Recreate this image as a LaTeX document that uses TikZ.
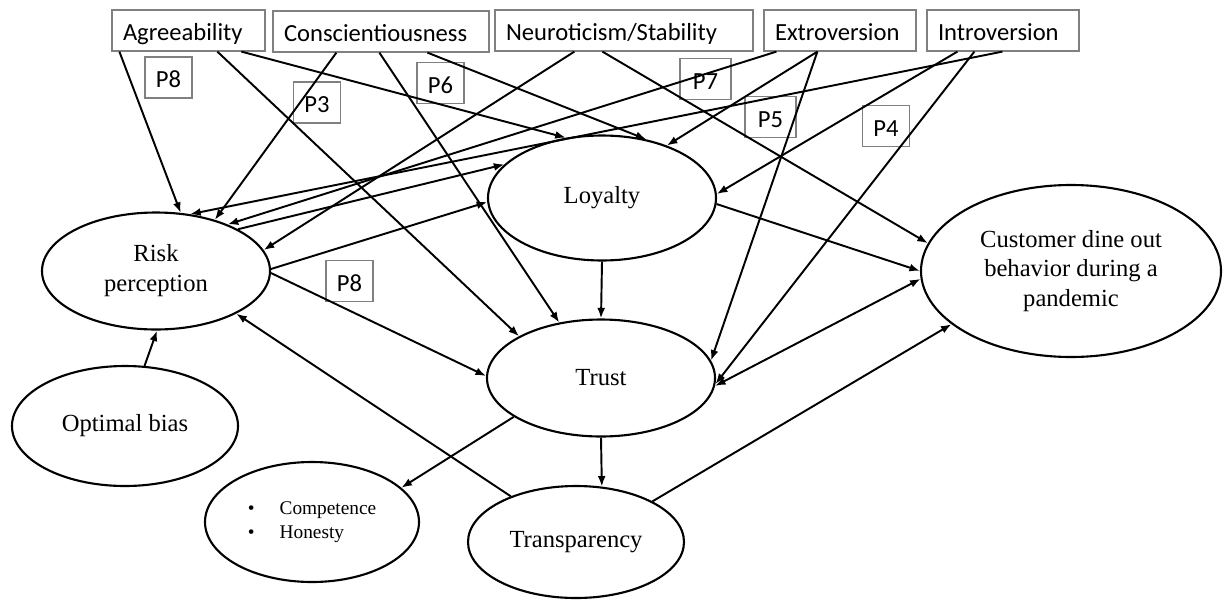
\documentclass[tikz,border=0pt]{standalone}
\usepackage{fontspec}
\setmainfont{Liberation Serif}
\newfontfamily\carlito{Carlito}
\usetikzlibrary{shapes.geometric,arrows.meta}
\definecolor{grisBorde}{RGB}{128,128,128}
\newcommand{\traittext}[2]{\makebox[#1][l]{#2}}

\begin{document}
\begin{tikzpicture}[
  trait/.style={rectangle, draw=grisBorde, line width=0.7pt, minimum height=0.82cm,
    inner xsep=0.22cm, inner ysep=0pt, text height=11.5pt, text depth=0pt,
    font=\fontsize{14}{16}\selectfont\carlito},
  plabel/.style={rectangle, draw=grisBorde, line width=0.7pt, minimum width=0.94cm,
    minimum height=0.82cm, inner ysep=0pt, text height=11.5pt, text depth=0pt,
    font=\fontsize{14}{16}\selectfont\carlito},
  construct/.style={ellipse, draw, line width=1.2pt, inner sep=0pt, align=center,
    font=\fontsize{14}{17}\selectfont},
  arrow/.style={-{Latex[length=6pt,width=4.5pt]}, line width=1.1pt},
  biarrow/.style={{Latex[length=6pt,width=4.5pt]}-{Latex[length=6pt,width=4.5pt]}, line width=1.1pt}
]
\useasboundingbox (0,0) rectangle (24.46,-11.98);

% personality traits
\node[trait] (agree) at (3.77,-0.61) {\traittext{2.62cm}{Agreeability}};
\node[trait] (consc) at (7.62,-0.63) {\traittext{3.88cm}{Conscientiousness}};
\node[trait] (neuro) at (12.48,-0.61) {\traittext{4.72cm}{Neuroticism/Stability}};
\node[trait] (extro) at (16.8,-0.61) {\traittext{2.60cm}{Extroversion}};
\node[trait] (intro) at (20.06,-0.61) {\traittext{2.60cm}{Introversion}};

% propositions
\node[plabel] (p8a) at (3.37,-1.55) {P8};
\node[plabel] (p3) at (6.34,-2.05) {P3};
\node[plabel] (p6) at (8.81,-1.66) {P6};
\node[plabel, minimum width=1.02cm] (p7) at (14.11,-1.58) {P7};
\node[plabel, minimum width=1.02cm] (p5) at (15.41,-2.34) {P5};
\node[plabel] (p4) at (17.72,-2.52) {P4};
\node[plabel] (p8b) at (6.99,-5.62) {P8};

% constructs
\node[construct, minimum width=4.56cm, minimum height=2.34cm] (risk) at (3.12,-5.42) {Risk\\perception};
\node[construct, minimum width=4.56cm, minimum height=2.5cm] (loyal) at (12.04,-3.96) {Loyalty};
\node[construct, minimum width=4.56cm, minimum height=2.34cm] (trust) at (12.02,-7.56) {Trust};
\node[construct, minimum width=6.0cm, minimum height=3.44cm] (cust) at (21.42,-5.42) {Customer dine out\\behavior during a\\pandemic};
\node[construct, minimum width=4.52cm, minimum height=2.4cm] (optim) at (2.5,-8.52) {Optimal bias};
\node[construct, minimum width=4.28cm, minimum height=2.4cm, align=left,
  font=\fontsize{11}{14}\selectfont] (compet) at (6.24,-10.44)
  {\textbullet\hspace{1.3em}Competence\\ \textbullet\hspace{1.3em}Honesty};
\node[construct, minimum width=4.32cm, minimum height=2.24cm] (transp) at (11.52,-10.84) {Transparency};

% traits to constructs
\draw[arrow] ([xshift=0.16cm]agree.south west) -- (risk.67);
\draw[arrow] ([xshift=2.12cm]agree.south west) -- (trust.153);
\draw[arrow] ([xshift=2.6cm]agree.south west) -- (loyal.121);
\draw[arrow] ([xshift=1.28cm]consc.south west) -- (risk.41);
\draw[arrow] ([xshift=2.14cm]consc.south west) -- (trust.127);
\draw[arrow] ([xshift=3.1cm]consc.south west) -- (loyal.53);
\draw[arrow] ([xshift=1.6cm]neuro.south west) -- (risk.11);
\draw[arrow] ([xshift=2.16cm]neuro.south west) -- (cust.169);
\draw[arrow] ([xshift=0.26cm]extro.south west) -- (risk.33);
\draw[arrow] ([xshift=1.08cm]extro.south west) -- (loyal.39);
\draw[arrow] ([xshift=1.08cm]extro.south west) -- (trust.9);
\draw[arrow] ([xshift=0.62cm]intro.south west) -- (loyal.2);
\draw[arrow] ([xshift=0.96cm]intro.south west) -- (trust.-3);
\draw[arrow] ([xshift=1.52cm]intro.south west) -- (risk.59);

% between constructs
\draw[arrow] (risk.27) -- (loyal.161);
\draw[arrow] (risk.1) -- (loyal.182);
\draw[arrow] (risk.-1) -- (trust.179);
\draw[arrow] (optim.72) -- (risk.-89);
\draw[arrow] (transp.145) -- (risk.-28);
\draw[arrow] (loyal.-3) -- (cust.180);
\draw[arrow] (loyal.south) -- (trust.north);
\draw[biarrow] (trust.-4) -- (cust.183);
\draw[arrow] (trust.south) -- (transp.65);
\draw[arrow] (trust.204) -- (compet.21);
\draw[arrow] (transp.28) -- (cust.204);
\end{tikzpicture}
\end{document}
